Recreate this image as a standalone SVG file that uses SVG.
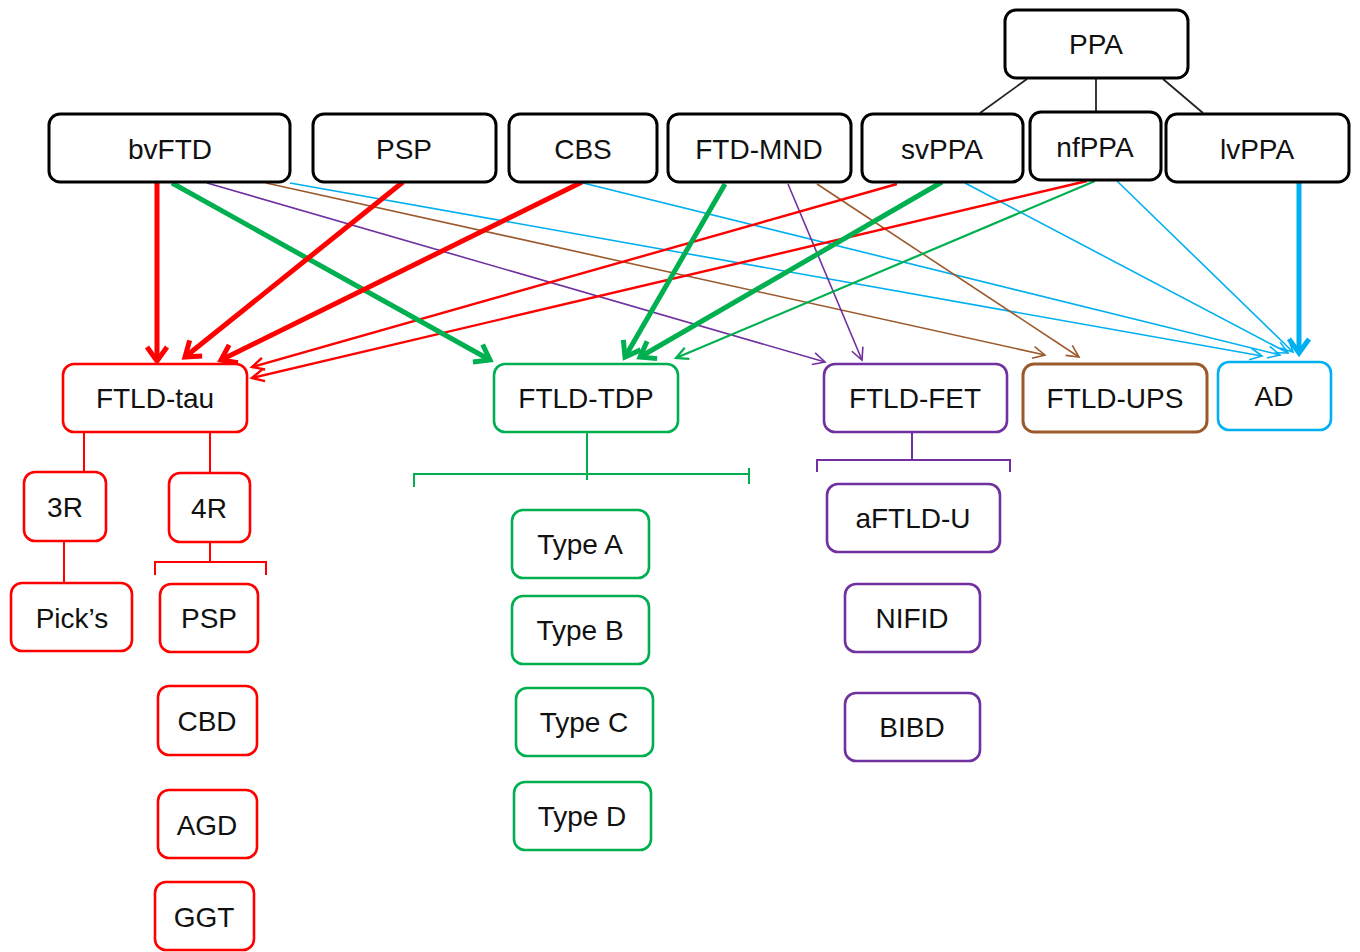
<svg xmlns="http://www.w3.org/2000/svg" width="1360" height="952" viewBox="0 0 1360 952">
<style>
  .nb rect{fill:#fff;stroke:#000;stroke-width:3}
  .nr rect{fill:#fff;stroke:#ff0000;stroke-width:2.6}
  .ng rect{fill:#fff;stroke:#00b050;stroke-width:2.6}
  .np rect{fill:#fff;stroke:#7030a0;stroke-width:2.6}
  .nbr rect{fill:#fff;stroke:#9c5a2c;stroke-width:3}
  .nbl rect{fill:#fff;stroke:#00b0f0;stroke-width:2.6}
  text{font-family:"Liberation Sans",Arial,sans-serif;font-size:28px;fill:#111;text-anchor:middle}
  .c{fill:none}
  .r5{stroke:#ff0000;stroke-width:5}
  .r2{stroke:#ff0000;stroke-width:2.4}
  .g5{stroke:#00b050;stroke-width:5}
  .g2{stroke:#00b050;stroke-width:2.2}
  .p1{stroke:#7030a0;stroke-width:1.6}
  .b1{stroke:#9c5a2c;stroke-width:1.6}
  .l1{stroke:#00b0f0;stroke-width:1.6}
  .l5{stroke:#00b0f0;stroke-width:5}
  .k1{stroke:#222;stroke-width:1.8}
  .rt{stroke:#ff0000;stroke-width:2}
  .gt{stroke:#00b050;stroke-width:2}
  .pt{stroke:#7030a0;stroke-width:2}
</style>
<defs>
  <marker id="aR5" markerUnits="userSpaceOnUse" markerWidth="18" markerHeight="24" viewBox="0 0 18 24" refX="15" refY="12" orient="auto" style="overflow:visible"><path d="M1,2 L15,12 L1,22" fill="none" stroke="#ff0000" stroke-width="5" stroke-linejoin="miter" stroke-linecap="butt"/></marker>
  <marker id="aG5" markerUnits="userSpaceOnUse" markerWidth="18" markerHeight="24" viewBox="0 0 18 24" refX="15" refY="12" orient="auto" style="overflow:visible"><path d="M1,2 L15,12 L1,22" fill="none" stroke="#00b050" stroke-width="5"/></marker>
  <marker id="aL5" markerUnits="userSpaceOnUse" markerWidth="18" markerHeight="24" viewBox="0 0 18 24" refX="15" refY="12" orient="auto" style="overflow:visible"><path d="M1,2 L15,12 L1,22" fill="none" stroke="#00b0f0" stroke-width="5"/></marker>
  <marker id="aR2" markerUnits="userSpaceOnUse" markerWidth="14" markerHeight="14" viewBox="0 0 14 14" refX="13" refY="7" orient="auto" style="overflow:visible"><path d="M1,1 L13,7 L1,13" fill="none" stroke="#ff0000" stroke-width="2.4"/></marker>
  <marker id="aG2" markerUnits="userSpaceOnUse" markerWidth="14" markerHeight="14" viewBox="0 0 14 14" refX="13" refY="7" orient="auto" style="overflow:visible"><path d="M1,1 L13,7 L1,13" fill="none" stroke="#00b050" stroke-width="2.2"/></marker>
  <marker id="aP1" markerUnits="userSpaceOnUse" markerWidth="14" markerHeight="14" viewBox="0 0 14 14" refX="13" refY="7" orient="auto" style="overflow:visible"><path d="M1,1 L13,7 L1,13" fill="none" stroke="#7030a0" stroke-width="1.6"/></marker>
  <marker id="aB1" markerUnits="userSpaceOnUse" markerWidth="14" markerHeight="14" viewBox="0 0 14 14" refX="13" refY="7" orient="auto" style="overflow:visible"><path d="M1,1 L13,7 L1,13" fill="none" stroke="#9c5a2c" stroke-width="1.6"/></marker>
  <marker id="aL1" markerUnits="userSpaceOnUse" markerWidth="14" markerHeight="14" viewBox="0 0 14 14" refX="13" refY="7" orient="auto" style="overflow:visible"><path d="M1,1 L13,7 L1,13" fill="none" stroke="#00b0f0" stroke-width="1.6"/></marker>
</defs>

<g id="connectors" class="c">
  <!-- PPA tree -->
  <line class="k1" x1="1027" y1="79" x2="980" y2="113"/>
  <line class="k1" x1="1096" y1="79" x2="1096" y2="112"/>
  <line class="k1" x1="1163" y1="79" x2="1203" y2="113"/>
  <!-- FTLD-tau tree -->
  <line class="rt" x1="84" y1="432" x2="84" y2="472"/>
  <line class="rt" x1="210" y1="432" x2="210" y2="473"/>
  <line class="rt" x1="64" y1="541" x2="64" y2="583"/>
  <line class="rt" x1="210" y1="542" x2="210" y2="562"/>
  <polyline class="rt" points="155,575 155,562 266,562 266,575"/>
  <!-- FTLD-TDP tree -->
  <line class="gt" x1="587" y1="432" x2="587" y2="480"/>
  <polyline class="gt" points="414,487 414,474 749,474 749,484"/>
  <line class="gt" x1="749" y1="468" x2="749" y2="474"/>
  <!-- FTLD-FET tree -->
  <line class="pt" x1="912" y1="432" x2="912" y2="460"/>
  <polyline class="pt" points="817,472 817,460 1010,460 1010,472"/>

  <!-- thin lines first -->
  <line class="l1" x1="290" y1="183" x2="1262" y2="356" marker-end="url(#aL1)"/>
  <line class="l1" x1="583" y1="183" x2="1280" y2="355" marker-end="url(#aL1)"/>
  <line class="l1" x1="965" y1="183" x2="1288" y2="353" marker-end="url(#aL1)"/>
  <line class="l1" x1="1117" y1="181" x2="1293" y2="352" marker-end="url(#aL1)"/>
  <line class="b1" x1="266" y1="183" x2="1045" y2="355" marker-end="url(#aB1)"/>
  <line class="b1" x1="817" y1="184" x2="1079" y2="357" marker-end="url(#aB1)"/>
  <line class="p1" x1="207" y1="183" x2="825" y2="362" marker-end="url(#aP1)"/>
  <line class="p1" x1="788" y1="184" x2="862" y2="360" marker-end="url(#aP1)"/>
  <line class="g2" x1="1095" y1="181" x2="676" y2="358" marker-end="url(#aG2)"/>
  <line class="r2" x1="897" y1="184" x2="252" y2="367" marker-end="url(#aR2)"/>
  <line class="r2" x1="1087" y1="181" x2="252" y2="378" marker-end="url(#aR2)"/>
  <!-- thick lines -->
  <line class="g5" x1="172" y1="183" x2="490" y2="360" marker-end="url(#aG5)"/>
  <line class="g5" x1="725" y1="184" x2="625" y2="357" marker-end="url(#aG5)"/>
  <line class="g5" x1="942" y1="182" x2="640" y2="357" marker-end="url(#aG5)"/>
  <line class="r5" x1="157" y1="183" x2="157" y2="361" marker-end="url(#aR5)"/>
  <line class="r5" x1="403" y1="182" x2="185" y2="357" marker-end="url(#aR5)"/>
  <line class="r5" x1="582" y1="182" x2="221" y2="360" marker-end="url(#aR5)"/>
  <line class="l5" x1="1299" y1="183" x2="1299" y2="353" marker-end="url(#aL5)"/>
</g>

<g id="PPA" class="nb"><rect x="1005" y="10" width="183" height="68" rx="11"/><text x="1096" y="54">PPA</text></g>
<g id="bvFTD" class="nb"><rect x="49" y="114" width="241" height="68" rx="11"/><text x="170" y="159">bvFTD</text></g>
<g id="PSP_top" class="nb"><rect x="313" y="114" width="183" height="68" rx="11"/><text x="404" y="159">PSP</text></g>
<g id="CBS" class="nb"><rect x="509" y="114" width="148" height="68" rx="11"/><text x="583" y="159">CBS</text></g>
<g id="FTD-MND" class="nb"><rect x="668" y="114" width="183" height="68" rx="11"/><text x="759" y="159">FTD-MND</text></g>
<g id="svPPA" class="nb"><rect x="862" y="114" width="161" height="68" rx="11"/><text x="942" y="159">svPPA</text></g>
<g id="nfPPA" class="nb"><rect x="1030" y="112" width="131" height="68" rx="11"/><text x="1095" y="157">nfPPA</text></g>
<g id="lvPPA" class="nb"><rect x="1166" y="114" width="183" height="68" rx="11"/><text x="1257" y="159">lvPPA</text></g>

<g id="FTLD-tau" class="nr"><rect x="63" y="364" width="184" height="68" rx="11"/><text x="155" y="408">FTLD-tau</text></g>
<g id="FTLD-TDP" class="ng"><rect x="494" y="364" width="184" height="68" rx="11"/><text x="586" y="408">FTLD-TDP</text></g>
<g id="FTLD-FET" class="np"><rect x="824" y="364" width="183" height="68" rx="11"/><text x="915" y="408">FTLD-FET</text></g>
<g id="FTLD-UPS" class="nbr"><rect x="1023" y="364" width="184" height="68" rx="11"/><text x="1115" y="408">FTLD-UPS</text></g>
<g id="AD" class="nbl"><rect x="1218" y="362" width="113" height="68" rx="11"/><text x="1274" y="406">AD</text></g>

<g id="3R" class="nr"><rect x="24" y="472" width="82" height="69" rx="11"/><text x="65" y="517">3R</text></g>
<g id="4R" class="nr"><rect x="169" y="473" width="81" height="69" rx="11"/><text x="209" y="518">4R</text></g>
<g id="Picks" class="nr"><rect x="11" y="583" width="121" height="68" rx="11"/><text x="72" y="628">Pick’s</text></g>
<g id="PSP" class="nr"><rect x="160" y="584" width="98" height="68" rx="11"/><text x="209" y="628">PSP</text></g>
<g id="CBD" class="nr"><rect x="158" y="686" width="99" height="69" rx="11"/><text x="207" y="731">CBD</text></g>
<g id="AGD" class="nr"><rect x="158" y="790" width="99" height="68" rx="11"/><text x="207" y="835">AGD</text></g>
<g id="GGT" class="nr"><rect x="155" y="882" width="99" height="68" rx="11"/><text x="204" y="927">GGT</text></g>

<g id="TypeA" class="ng"><rect x="512" y="510" width="137" height="68" rx="11"/><text x="580" y="554">Type A</text></g>
<g id="TypeB" class="ng"><rect x="512" y="596" width="137" height="68" rx="11"/><text x="580" y="640">Type B</text></g>
<g id="TypeC" class="ng"><rect x="516" y="688" width="137" height="68" rx="11"/><text x="584" y="732">Type C</text></g>
<g id="TypeD" class="ng"><rect x="514" y="782" width="137" height="68" rx="11"/><text x="582" y="826">Type D</text></g>

<g id="aFTLD-U" class="np"><rect x="827" y="484" width="173" height="68" rx="11"/><text x="913" y="528">aFTLD-U</text></g>
<g id="NIFID" class="np"><rect x="845" y="584" width="135" height="68" rx="11"/><text x="912" y="628">NIFID</text></g>
<g id="BIBD" class="np"><rect x="845" y="693" width="135" height="68" rx="11"/><text x="912" y="737">BIBD</text></g>
</svg>
